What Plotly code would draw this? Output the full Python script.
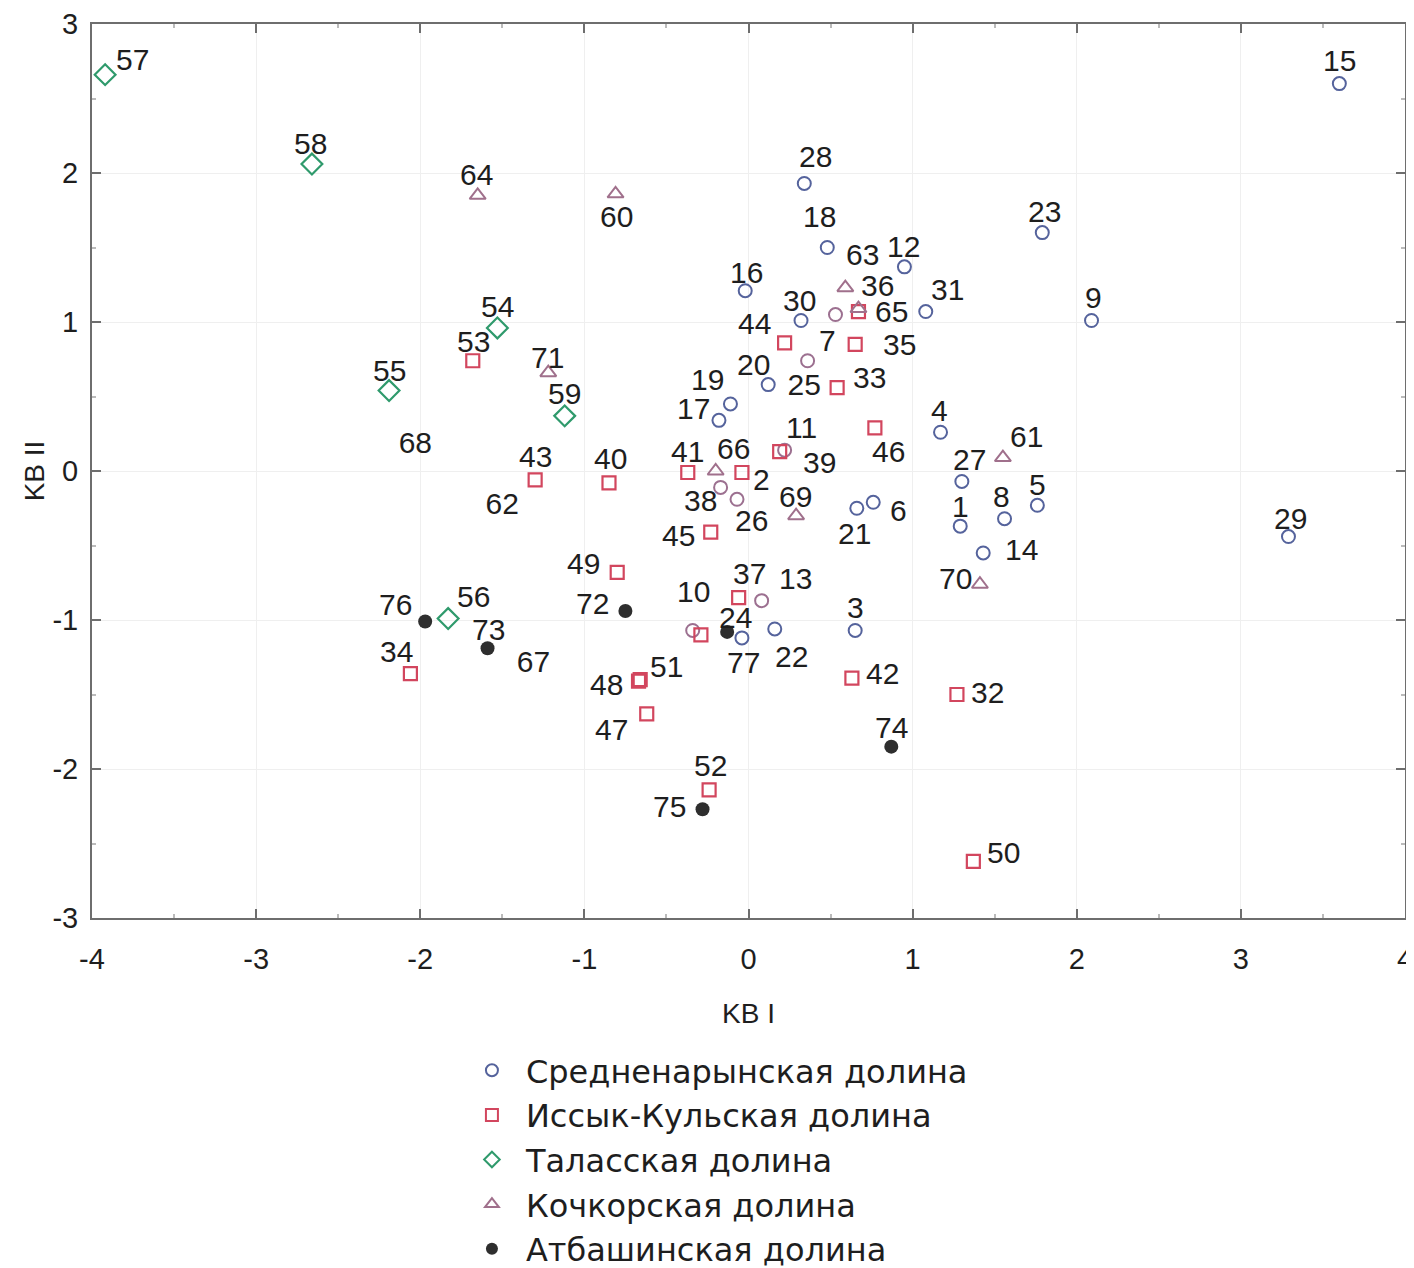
import plotly.graph_objects as go

# ---------------- data ----------------
# Средненарынская долина (circles)
circ_ids = ["15", "28", "18", "12", "23", "9", "31", "16", "30", "20", "19", "17", "4", "27", "1",
            "8", "5", "14", "6", "21", "29", "3", "22", "77"]
circ_x = [3.60, 0.34, 0.48, 0.95, 1.79, 2.09, 1.08, -0.02, 0.32, 0.12, -0.11, -0.18, 1.17, 1.30, 1.29,
          1.56, 1.76, 1.43, 0.76, 0.66, 3.29, 0.65, 0.16, -0.04]
circ_y = [2.60, 1.93, 1.50, 1.37, 1.60, 1.01, 1.07, 1.21, 1.01, 0.58, 0.45, 0.34, 0.26, -0.07, -0.37,
          -0.32, -0.23, -0.55, -0.21, -0.25, -0.44, -1.07, -1.06, -1.12]
# circles of the same group printed in a paler (mauve) tint in the source
circ2_ids = ["13", "10", "7", "11", "26", "38", ""]
circ2_x = [0.08, -0.34, 0.36, 0.22, -0.07, -0.17, 0.53]
circ2_y = [-0.87, -1.07, 0.74, 0.14, -0.19, -0.11, 1.05]

# Иссык-Кульская долина (squares)
sq_ids = ["53", "43", "40", "41", "45", "49", "44", "35", "33", "46", "2", "39", "36", "37", "",
          "48", "51", "47", "34", "42", "32", "52", "50"]
sq_x = [-1.68, -1.30, -0.85, -0.37, -0.23, -0.80, 0.22, 0.65, 0.54, 0.77, -0.04, 0.19, 0.67, -0.06, -0.29,
        -0.67, -0.66, -0.62, -2.06, 0.63, 1.27, -0.24, 1.37]
sq_y = [0.74, -0.06, -0.08, -0.01, -0.41, -0.68, 0.86, 0.85, 0.56, 0.29, -0.01, 0.13, 1.07, -0.85, -1.10,
        -1.41, -1.40, -1.63, -1.36, -1.39, -1.50, -2.14, -2.62]

# Таласская долина (diamonds)
dia_ids = ["57", "58", "54", "55", "59", "56"]
dia_x = [-3.92, -2.66, -1.53, -2.19, -1.12, -1.83]
dia_y = [2.66, 2.06, 0.96, 0.54, 0.37, -0.99]

# Кочкорская долина (triangles)
tri_ids = ["64", "60", "63", "65", "71", "66", "69", "61", "70"]
tri_x = [-1.65, -0.81, 0.59, 0.67, -1.22, -0.20, 0.29, 1.55, 1.41]
tri_y = [1.85, 1.86, 1.23, 1.09, 0.66, 0.00, -0.30, 0.09, -0.76]

# Атбашинская долина (filled dots)
dot_ids = ["76", "73", "72", "24", "74", "75"]
dot_x = [-1.97, -1.59, -0.75, -0.13, 0.87, -0.28]
dot_y = [-1.01, -1.19, -0.94, -1.08, -1.85, -2.27]

# labels printed without a visible marker
txt_ids = ["68", "62", "67", "25"]
txt_x = [-2.03, -1.50, -1.31, 0.34]
txt_y = [0.17, -0.24, -1.30, 0.56]

x_ticks = [-4, -3, -2, -1, 0, 1, 2, 3, 4]
y_ticks = [-3, -2, -1, 0, 1, 2, 3]

# label offsets (screen pixels: right, down) relative to each marker — styling only
circ_off = [(0, -23), (11, -27), (-8, -31), (-1, -20), (2, -21), (2, -23), (22, -22), (1, -18), (-2, -20),
            (-15, -20), (-23, -24), (-25, -12), (-1, -22), (8, -22), (0, -20), (-3, -22), (0, -21),
            (38, -3), (25, 8), (-2, 25), (2, -18), (0, -23), (17, 28), (2, 25)]
circ2_off = [(34, -22), (1, -39), (20, -20), (17, -23), (14, 21), (-20, 13), (0, 0)]
sq_off = [(1, -19), (0, -23), (2, -24), (0, -21), (-32, 3), (-34, -9), (-30, -19), (44, 0), (32, -10),
          (14, 24), (20, 7), (40, 11), (19, -26), (11, -24), (0, 0), (-32, 3), (26, -13), (-35, 16),
          (-14, -22), (31, -5), (31, -2), (1, -24), (30, -9)]
dia_off = [(27, -15), (-1, -21), (0, -21), (0, -20), (0, -22), (25, -22)]
tri_off = [(-1, -21), (1, 23), (17, -33), (33, 3), (-1, -15), (18, -23), (-1, -19), (24, -21), (-24, -6)]
dot_off = [(-30, -17), (1, -19), (-33, -8), (8, -14), (0, -19), (-33, -3)]

# ---------------- figure ----------------
FONT = "Liberation Sans, Arial, sans-serif"
LBL = dict(family=FONT, size=30, color="#1e1e1e")

BLUE = "#55639c"
MAUVE_C = "#9c7090"
RED = "#d2465e"
GREEN = "#2f9a6c"
TRI = "#a0708c"
BLACK = "#2e2e2e"

fig = go.Figure()

fig.add_trace(go.Scatter(
    x=circ_x, y=circ_y, mode="markers", name="Средненарынская долина", legendgroup="c",
    marker=dict(symbol="circle-open", size=13, color=BLUE, line=dict(width=2, color=BLUE)),
    cliponaxis=False))
fig.add_trace(go.Scatter(
    x=circ2_x, y=circ2_y, mode="markers", name="Средненарынская долина", legendgroup="c",
    showlegend=False,
    marker=dict(symbol="circle-open", size=13, color=MAUVE_C, line=dict(width=2, color=MAUVE_C)),
    cliponaxis=False))
fig.add_trace(go.Scatter(
    x=sq_x, y=sq_y, mode="markers", name="Иссык-Кульская долина",
    marker=dict(symbol="square-open", size=13, color=RED, line=dict(width=2.2, color=RED)),
    cliponaxis=False))
fig.add_trace(go.Scatter(
    x=dia_x, y=dia_y, mode="markers", name="Таласская долина",
    marker=dict(symbol="diamond-open", size=16, color=GREEN, line=dict(width=2.2, color=GREEN)),
    cliponaxis=False))
fig.add_trace(go.Scatter(
    x=tri_x, y=tri_y, mode="markers", name="Кочкорская долина",
    marker=dict(symbol="triangle-up-open", size=14, color=TRI, line=dict(width=2, color=TRI)),
    cliponaxis=False))
fig.add_trace(go.Scatter(
    x=dot_x, y=dot_y, mode="markers", name="Атбашинская долина",
    marker=dict(symbol="circle", size=14, color=BLACK),
    cliponaxis=False))
fig.add_trace(go.Scatter(
    x=txt_x, y=txt_y, text=txt_ids, mode="text", textposition="middle center",
    showlegend=False, textfont=LBL, hoverinfo="skip", cliponaxis=False))

# point labels
for ids, xs, ys, offs in [(circ_ids, circ_x, circ_y, circ_off), (circ2_ids, circ2_x, circ2_y, circ2_off),
                          (sq_ids, sq_x, sq_y, sq_off), (dia_ids, dia_x, dia_y, dia_off),
                          (tri_ids, tri_x, tri_y, tri_off), (dot_ids, dot_x, dot_y, dot_off)]:
    for t, xv, yv, (dx, dy) in zip(ids, xs, ys, offs):
        if not t:
            continue
        fig.add_annotation(x=xv, y=yv, xref="x", yref="y", text=t, showarrow=False,
                           xshift=dx, yshift=-dy, font=LBL, xanchor="center", yanchor="middle")

axis_common = dict(
    showline=True, linecolor="#6e6e6e", linewidth=2, mirror="ticks",
    ticks="inside", ticklen=9, tickwidth=2, tickcolor="#6e6e6e",
    showgrid=True, gridcolor="#efefef", gridwidth=1, zeroline=False,
    tickfont=dict(family=FONT, size=29, color="#1e1e1e"),
    minor=dict(ticks="inside", ticklen=4, tickcolor="#bbbbbb", nticks=5, showgrid=False),
    automargin=False,
)

fig.update_layout(
    width=1414, height=1268,
    margin=dict(l=84, r=17, t=16, b=358, autoexpand=False),
    paper_bgcolor="white", plot_bgcolor="white",
    font=dict(family=FONT, color="#1e1e1e"),
    xaxis=dict(range=[-4, 4], tickvals=x_ticks, ticktext=[str(v) for v in x_ticks],
               ticklabelstandoff=14,
               title=dict(text="KB I", font=dict(family=FONT, size=28), standoff=30),
               **axis_common),
    yaxis=dict(range=[-3, 3], tickvals=y_ticks, ticktext=[str(v) for v in y_ticks],
               ticklabelstandoff=6,
               title=dict(text="KB II", font=dict(family=FONT, size=28), standoff=0),
               **axis_common),
    legend=dict(orientation="v", x=0.2787, xanchor="left", y=-0.1398, yanchor="top",
                font=dict(family="DejaVu Sans, sans-serif", size=32, color="#1e1e1e"),
                itemsizing="constant", itemwidth=58, tracegroupgap=0, bgcolor="rgba(0,0,0,0)"),
    showlegend=True,
)

fig.write_html("out.html")
